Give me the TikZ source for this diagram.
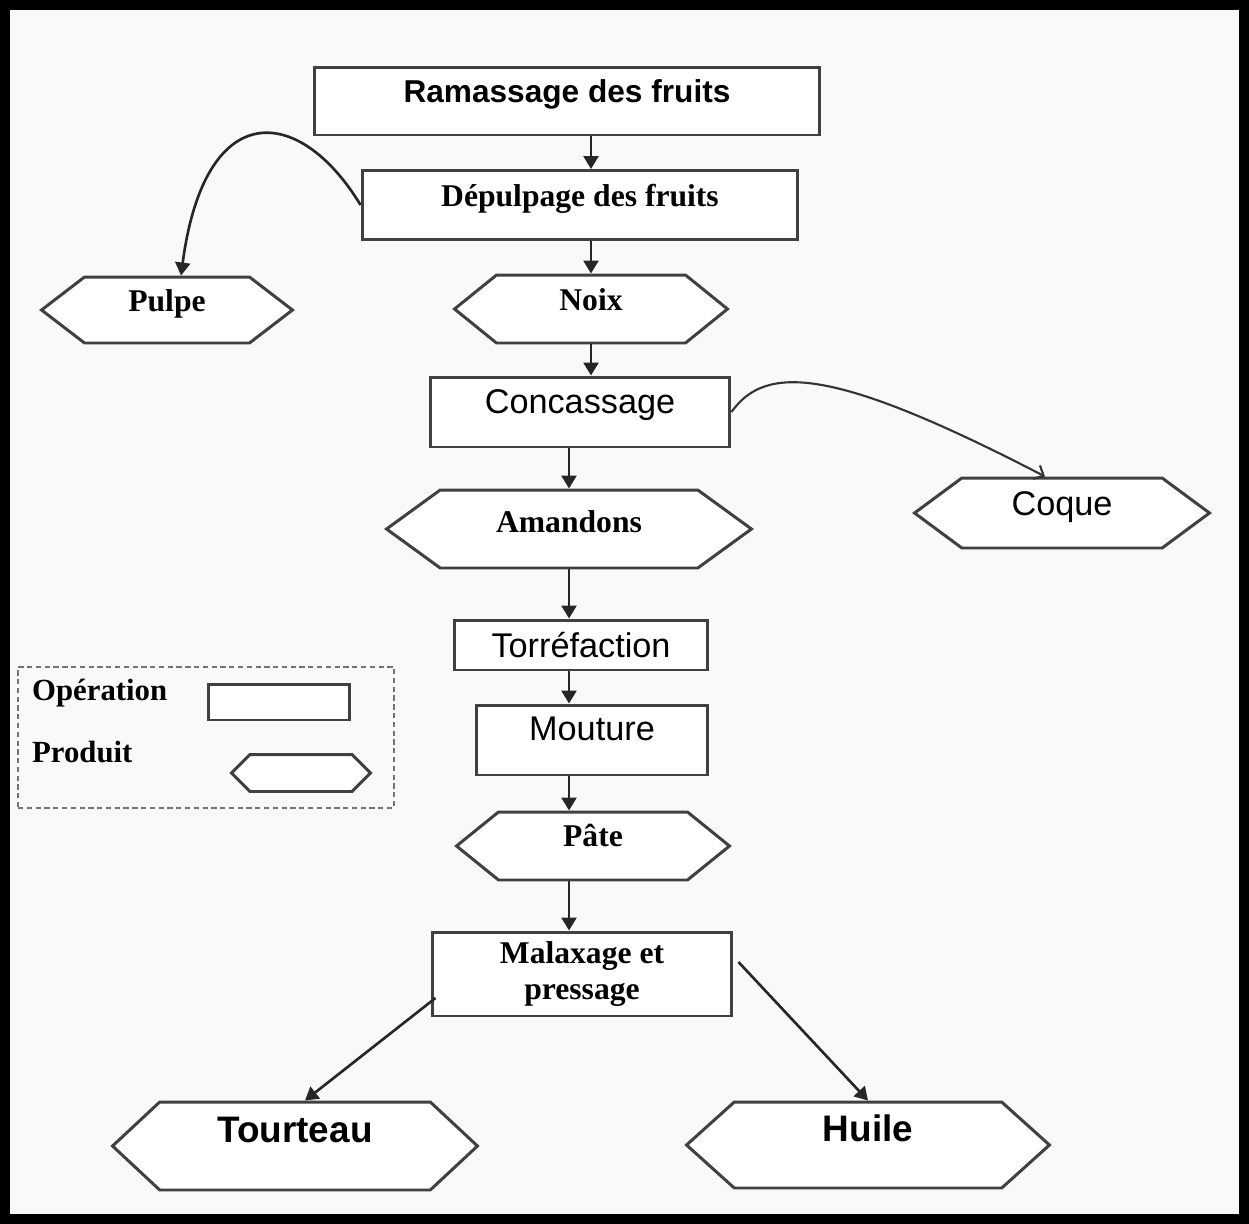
\documentclass[tikz,border=0pt]{standalone}
\usepackage{fontspec}
\setmainfont{Liberation Serif}
\setsansfont{Liberation Sans}
\usetikzlibrary{shapes.symbols,arrows.meta}

\begin{document}
\begin{tikzpicture}[x=0.02cm,y=-0.02cm,
		op/.style={rectangle,draw=black!75,line width=1.7pt,fill=white,inner sep=2pt},
		prod/.style={signal,signal to=west and east,signal pointer angle=#1,draw=black!75,line width=1.7pt,fill=white,inner sep=2pt},
		prod/.default=78,
		fsans/.style={font=\sffamily\bfseries\fontsize{18}{21}\selectfont},
		flight/.style={font=\sffamily\fontsize{19.5}{22}\selectfont},
		fserif/.style={font=\rmfamily\bfseries\fontsize{18}{20}\selectfont},
		fbig/.style={font=\sffamily\bfseries\fontsize{21}{24}\selectfont},
		up/.style={text height=0.45cm,text depth=#1},
		arr/.style={-{Triangle[width=0.3cm,length=0.26cm]},line width=1.5pt,draw=black!85},
		thinarr/.style={-{Straight Barb[width=0.3cm,length=0.16cm]},line width=1.2pt,draw=black!80}]
		
		\useasboundingbox (0,0) rectangle (1249,1224);
		\fill[gray!5] (0,0) rectangle (1249,1224);
		\draw[line width=0.21cm] (5,5) rectangle (1244,1219);
		
		% operations and products
		\node(ram) at (567,101)[op,fsans,up=0.4cm,minimum width=10.1cm,minimum height=1.36cm]{Ramassage des fruits};
		\node(dep) at (580,205)[op,fserif,up=0.4cm,minimum width=8.72cm,minimum height=1.38cm]{Dépulpage des fruits};
		\node(pulpe) at (167,310)[prod=75,fserif,up=0.4cm,minimum width=5.02cm,minimum height=1.32cm]{Pulpe};
		\node(noix) at (591,309)[prod,fserif,up=0.4cm,minimum width=5.46cm,minimum height=1.36cm]{Noix};
		\node(conc) at (580,412)[op,flight,up=0.4cm,minimum width=6.0cm,minimum height=1.4cm]{Concassage};
		\node(coque) at (1062,513)[prod=73,flight,up=0.35cm,minimum width=5.9cm,minimum height=1.4cm]{Coque};
		\node(am) at (569,529)[prod=72,fserif,up=0.3cm,minimum width=7.3cm,minimum height=1.56cm]{Amandons};
		\node(torr) at (581,645)[op,flight,minimum width=5.08cm,minimum height=1.0cm]{Torréfaction};
		\node(mout) at (592,740)[op,flight,up=0.45cm,minimum width=4.62cm,minimum height=1.4cm]{Mouture};
		\node(pate) at (593,846)[prod,fserif,up=0.45cm,minimum width=5.46cm,minimum height=1.36cm]{Pâte};
		\node(malax) at (582,974)[op,fserif,align=center,minimum width=6.0cm,minimum height=1.68cm]{Malaxage et\\pressage};
		\node(tourt) at (295,1146)[prod=86,fbig,up=0.6cm,minimum width=7.3cm,minimum height=1.76cm]{Tourteau};
		\node(huile) at (868,1145)[prod=84,fbig,up=0.6cm,minimum width=7.26cm,minimum height=1.72cm]{Huile};
		
		% legend
		\node(leg) at (206,737.5)[draw=black!55,densely dashed,line width=1pt,minimum width=7.52cm,minimum height=2.82cm]{};
		\node(legop) at (26,693)[anchor=west,fserif,font=\rmfamily\bfseries\fontsize{17.5}{20}\selectfont]{Opération};
		\node(legprod) at (26,752)[anchor=west,fserif,font=\rmfamily\bfseries\fontsize{17.5}{20}\selectfont]{Produit};
		\node(legrect) at (279,702)[op,minimum width=2.84cm,minimum height=0.72cm]{};
		\node(leghex) at (301,773)[prod=90,minimum width=2.78cm,minimum height=0.74cm]{};
		
			\draw[arr] (ram.south -| noix.north) -- (dep.north -| noix.north);
			\draw[arr] (dep.south -| noix.north) -- (noix.north);
			\draw[arr] (noix.south) -- (conc.north -| noix.south);
			\draw[arr] (conc.south -| am.north) -- (am.north);
			\draw[arr] (am.south) -- (torr.north -| am.south);
			\draw[arr] (torr.south -| am.south) -- (mout.north -| am.south);
			\draw[arr] (mout.south -| am.south) -- (pate.north -| am.south);
			\draw[arr] (pate.south -| am.south) -- (malax.north -| am.south);
			\draw[arr] (dep.west) .. controls (300,105) and (205,95) .. ([xshift=0.28cm]pulpe.north);
			\draw[thinarr] (conc.east) .. controls (765,365) and (830,365) .. ([xshift=-0.34cm]coque.north);
			\draw[arr] ([shift={(0.1cm,-0.48cm)}]malax.west) -- ([xshift=0.2cm]tourt.north);
			\draw[arr] ([shift={(0.1cm,0.24cm)}]malax.east) -- (huile.north);
		
	\end{tikzpicture}
\end{document}
